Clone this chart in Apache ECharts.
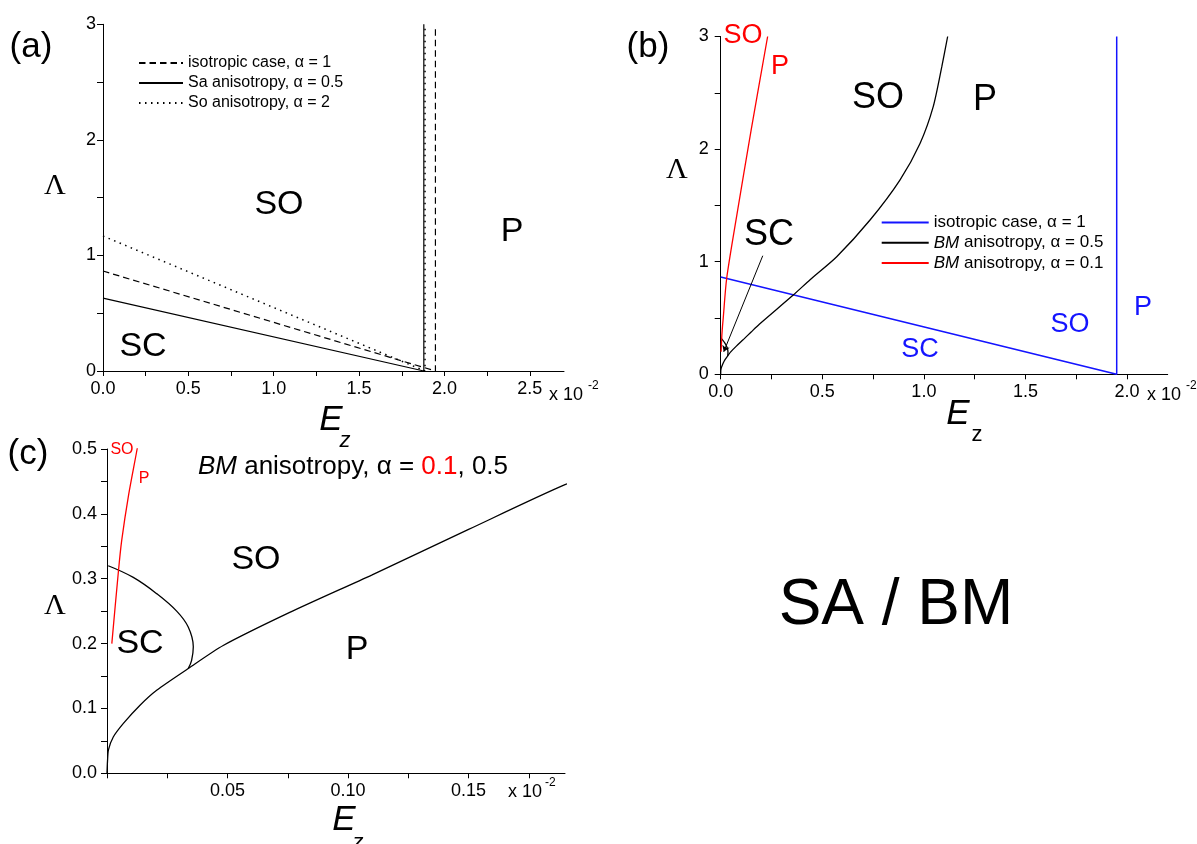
<!DOCTYPE html>
<html>
<head>
<meta charset="utf-8">
<script src="https://cdn.jsdelivr.net/npm/echarts@6/dist/echarts.min.js"></script>
<style>
  html, body { margin: 0; padding: 0; background: #fff; }
  #main { width: 1197px; height: 844px; }
</style>
</head>
<body>
<div id="main"></div>
<script>
// Phase diagrams: E_z in units of 10^-2, Λ dimensionless.

// (a) isotropic case and Sa / So anisotropy
const A_ISO = [[0, 0.865], [1.947, 0], [1.947, 2.97]];
const A_SA  = [[0, 0.63], [1.879, 0], [1.879, 3.0]];
const A_SO  = [[0, 1.168], [1.886, 0], [1.886, 3.0]];

// (b) isotropic case and BM anisotropy
const B_ISO = [[0, 0.864], [1.949, 0], [1.949, 3.0]];

// BM anisotropy, alpha = 0.5 : lower (P) boundary
const BM05_P = [
  [0, 0], [0.0002, 0.018], [0.0006, 0.036], [0.0026, 0.056], [0.0068, 0.077],
  [0.0137, 0.105], [0.0206, 0.128], [0.0337, 0.1615], [0.0482, 0.197],
  [0.0758, 0.248], [0.11, 0.306], [0.15, 0.376], [0.19, 0.445], [0.357, 0.704],
  [0.44, 0.84], [0.571, 1.044], [0.735, 1.37], [0.882, 1.725], [0.981, 2.05],
  [1.046, 2.377], [1.088, 2.73], [1.117, 3.0]
];
// BM anisotropy, alpha = 0.5 : SC pocket boundary
const BM05_SC = [
  [0.0005, 0.32], [0.0109, 0.302], [0.0206, 0.277], [0.0289, 0.25],
  [0.0337, 0.2255], [0.0358, 0.195], [0.0351, 0.174], [0.0337, 0.1615]
];
// BM anisotropy, alpha = 0.1
const BM01 = [
  [0.002, 0.2], [0.0047, 0.31], [0.0061, 0.359], [0.009, 0.43], [0.0125, 0.5],
  [0.0295, 0.853], [0.08, 1.42], [0.15, 2.17], [0.231, 3.0]
];
// pointer from the "SC" label down to the small SC pocket in (b)
const B_SC_POINTER = [[0.207, 1.053], [0.015, 0.2]];

// ticks and tick labels
const A_X_TICKS  = [0, 0.25, 0.5, 0.75, 1, 1.25, 1.5, 1.75, 2, 2.25, 2.5];
const A_X_LABELS = [0, 0.5, 1, 1.5, 2, 2.5];
const A_Y_TICKS  = [0, 0.5, 1, 1.5, 2, 2.5, 3];
const A_Y_LABELS = [0, 1, 2, 3];
const B_X_TICKS  = [0, 0.25, 0.5, 0.75, 1, 1.25, 1.5, 1.75, 2];
const B_X_LABELS = [0, 0.5, 1, 1.5, 2];
const B_Y_TICKS  = [0, 0.5, 1, 1.5, 2, 2.5, 3];
const B_Y_LABELS = [0, 1, 2, 3];
const C_X_TICKS  = [0, 0.025, 0.05, 0.075, 0.1, 0.125, 0.15, 0.175];
const C_X_LABELS = [0.05, 0.1, 0.15];
const C_Y_TICKS  = [0, 0.05, 0.1, 0.15, 0.2, 0.25, 0.3, 0.35, 0.4, 0.45, 0.5];
const C_Y_LABELS = [0, 0.1, 0.2, 0.3, 0.4, 0.5];

// legend texts
const LEGEND_A = {
  isoA: 'isotropic case, α = 1',
  saA: 'Sa anisotropy, α = 0.5',
  soA: 'So anisotropy, α = 2'
};
const LEGEND_B = {
  isoB: 'isotropic case, α = 1',
  bm05: '{i|BM} anisotropy, α = 0.5',
  bm01: '{i|BM} anisotropy, α = 0.1'
};

const SANS = 'Liberation Sans, Arial, Helvetica, sans-serif';
const SERIF = 'Liberation Serif, Times New Roman, serif';
const RED = '#ff0000';
const BLUE = '#1414ff';

function makeXAxis(grid, max, ticks, labels, fmt) {
  return {
    gridIndex: grid, type: 'value', min: 0, max: max,
    axisLine: { show: true, onZero: false, lineStyle: { color: '#000', width: 1 } },
    axisTick: { show: true, length: 5, customValues: ticks, lineStyle: { color: '#000', width: 1 } },
    axisLabel: { customValues: labels, formatter: fmt, color: '#000', fontSize: 18, fontFamily: SANS, margin: 9 },
    splitLine: { show: false }
  };
}
function makeYAxis(grid, max, ticks, labels, fmt, margin) {
  return {
    gridIndex: grid, type: 'value', min: 0, max: max,
    axisLine: { show: true, onZero: false, lineStyle: { color: '#000', width: 1 } },
    axisTick: { show: true, length: 6, customValues: ticks, lineStyle: { color: '#000', width: 1 } },
    axisLabel: { customValues: labels, formatter: fmt, color: '#000', fontSize: 18, fontFamily: SANS, margin: margin },
    splitLine: { show: false }
  };
}
function line(name, x, y, data, color, width, type, extra) {
  return Object.assign({
    name: name, type: 'line', xAxisIndex: x, yAxisIndex: y, data: data,
    symbol: 'none', showSymbol: false, silent: true, clip: true,
    lineStyle: { color: color, width: width, type: type },
    itemStyle: { color: color }
  }, extra || {});
}
function txt(x, y, text, size, color, opts) {
  opts = opts || {};
  return {
    type: 'text', silent: true,
    style: Object.assign({
      x: x, y: y, text: text, fill: color || '#000',
      font: (opts.style || 'normal') + ' ' + size + 'px ' + (opts.family || SANS),
      align: opts.align || 'center', verticalAlign: 'middle'
    }, opts.extra || {})
  };
}

const fmt1 = v => v.toFixed(1);
const fmt2 = v => v.toFixed(2);
const fmt0 = v => String(Math.round(v));

const option = {
  animation: false,
  backgroundColor: '#fff',
  grid: [
    { left: 103, top: 24.3, width: 461, height: 346.7 },
    { left: 720.7, top: 36.5, width: 447, height: 337.8 },
    { left: 107, top: 449, width: 458, height: 324.3 }
  ],
  xAxis: [
    makeXAxis(0, 2.7, A_X_TICKS, A_X_LABELS, fmt1),
    makeXAxis(1, 2.2, B_X_TICKS, B_X_LABELS, fmt1),
    makeXAxis(2, 0.19, C_X_TICKS, C_X_LABELS, fmt2)
  ],
  yAxis: [
    makeYAxis(0, 3, A_Y_TICKS, A_Y_LABELS, fmt0, 7),
    makeYAxis(1, 3, B_Y_TICKS, B_Y_LABELS, fmt0, 12),
    makeYAxis(2, 0.5, C_Y_TICKS, C_Y_LABELS, fmt1, 10)
  ],
  legend: [
    {
      id: 'legA', data: ['isoA', 'saA', 'soA'], orient: 'vertical',
      left: 138, top: 55, padding: 0, itemGap: 4, itemWidth: 44, itemHeight: 14,
      selectedMode: false, formatter: n => LEGEND_A[n],
      itemStyle: { opacity: 0, borderWidth: 0 },
      textStyle: { color: '#000', fontSize: 16, fontFamily: SANS }
    },
    {
      id: 'legB', data: ['isoB', 'bm05', 'bm01'], orient: 'vertical',
      left: 880.7, top: 214, padding: 0, itemGap: 3.3, itemWidth: 47, itemHeight: 14,
      selectedMode: false, formatter: n => LEGEND_B[n],
      itemStyle: { opacity: 0, borderWidth: 0 },
      textStyle: {
        color: '#000', fontSize: 17, fontFamily: SANS,
        rich: { i: { fontStyle: 'italic', fontSize: 17, fontFamily: SANS, color: '#000' } }
      }
    }
  ],
  series: [
    // (a)
    line('isoA', 0, 0, A_ISO, '#000', 1.2, [6.5, 4]),
    line('saA', 0, 0, A_SA, '#000', 1.2, 'solid'),
    line('soA', 0, 0, A_SO, '#000', 1.5, [1.5, 4.5]),
    // (b)
    line('isoB', 1, 1, B_ISO, BLUE, 1.5, 'solid'),
    line('bm05', 1, 1, BM05_P, '#000', 1.3, 'solid', {
      smooth: 0.25,
      markLine: {
        silent: true, symbol: ['none', 'arrow'], symbolSize: 6, animation: false,
        label: { show: false },
        lineStyle: { color: '#000', width: 1, type: 'solid' },
        data: [[{ coord: B_SC_POINTER[0] }, { coord: B_SC_POINTER[1] }]]
      }
    }),
    line('bm05', 1, 1, BM05_SC, '#000', 1.3, 'solid', { smooth: 0.4 }),
    line('bm01', 1, 1, BM01, RED, 1.3, 'solid', { smooth: 0.25 }),
    // (c)
    line('c05P', 2, 2, BM05_P, '#000', 1.3, 'solid', { smooth: 0.25 }),
    line('c05SC', 2, 2, BM05_SC, '#000', 1.3, 'solid', { smooth: 0.4 }),
    line('c01', 2, 2, BM01, RED, 1.3, 'solid', { smooth: 0.25 })
  ],
  graphic: [
    // panel tags
    txt(31, 47, '(a)', 35),
    txt(648, 47, '(b)', 35),
    txt(28, 454, '(c)', 35),
    // Λ axis titles
    txt(55, 186, 'Λ', 30, '#000', { family: SERIF }),
    txt(677, 170, 'Λ', 30, '#000', { family: SERIF }),
    txt(55, 606, 'Λ', 30, '#000', { family: SERIF }),
    // E_z axis titles
    txt(331, 420, 'E', 35, '#000', { style: 'italic' }),
    txt(345, 441, 'z', 22, '#000', { style: 'italic' }),
    txt(958, 414, 'E', 35, '#000', { style: 'italic' }),
    txt(977, 435, 'z', 22),
    txt(344, 820, 'E', 35, '#000', { style: 'italic' }),
    txt(358, 843, 'z', 22, '#000', { style: 'italic' }),
    // x 10^-2 multipliers
    txt(549, 395, 'x 10', 18, '#000', { align: 'left' }),
    txt(588, 386, '-2', 12, '#000', { align: 'left' }),
    txt(1147, 395, 'x 10', 18, '#000', { align: 'left' }),
    txt(1186, 386, '-2', 12, '#000', { align: 'left' }),
    txt(508, 792, 'x 10', 18, '#000', { align: 'left' }),
    txt(545, 783, '-2', 12, '#000', { align: 'left' }),
    // (a) region labels
    txt(279, 205, 'SO', 34),
    txt(512, 232, 'P', 34),
    txt(143, 347, 'SC', 34),
    // (b) region labels
    txt(743, 36, 'SO', 27, RED),
    txt(780, 67, 'P', 27, RED),
    txt(878, 98, 'SO', 36),
    txt(985, 100, 'P', 36),
    txt(769, 235, 'SC', 36),
    txt(1070, 325, 'SO', 27, BLUE),
    txt(1143, 308, 'P', 27, BLUE),
    txt(920, 350, 'SC', 27, BLUE),
    // (c) title and region labels
    {
      type: 'text', silent: true,
      style: {
        x: 353, y: 467, text: '{i|BM} anisotropy, α = {r|0.1}, 0.5',
        font: '26px ' + SANS, fill: '#000', align: 'center', verticalAlign: 'middle',
        rich: {
          i: { fontStyle: 'italic', fontSize: 26, fontFamily: SANS, fill: '#000' },
          r: { fontSize: 26, fontFamily: SANS, fill: RED }
        }
      }
    },
    txt(122, 450, 'SO', 16, RED),
    txt(144, 479, 'P', 16, RED),
    txt(256, 560, 'SO', 34),
    txt(140, 644, 'SC', 34),
    txt(357, 650, 'P', 34),
    // right-hand caption
    txt(896, 606, 'SA / BM', 64)
  ]
};

const chart = echarts.init(document.getElementById('main'), null, { renderer: 'canvas' });
chart.setOption(option);
</script>
</body>
</html>
